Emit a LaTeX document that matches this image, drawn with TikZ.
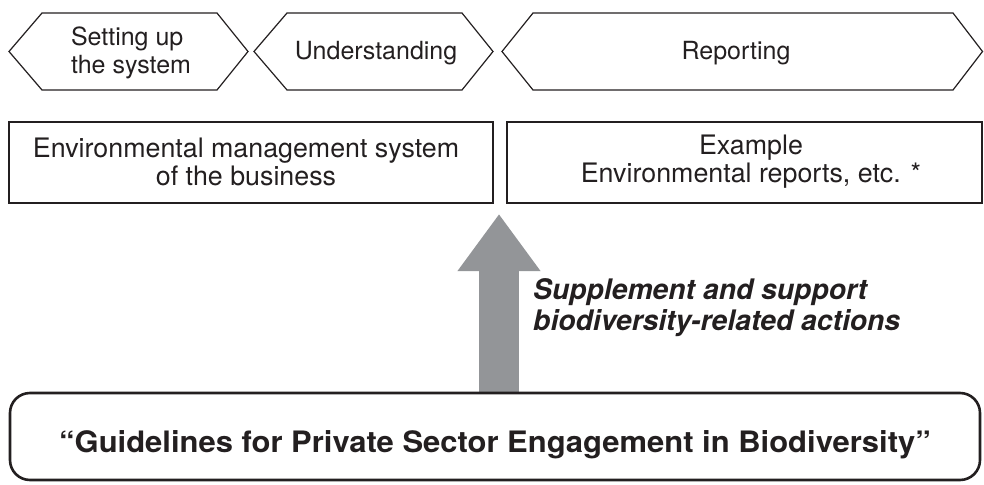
\documentclass[tikz,border=0pt]{standalone}
\usepackage{fontspec}
\usepackage{graphicx}
\setmainfont{TeX Gyre Heros}
\usetikzlibrary{arrows.meta,backgrounds}
\definecolor{ink}{HTML}{231F20}
\definecolor{arrowgray}{HTML}{939598}
\tikzset{
  stage/.style={draw=ink, line width=1.2pt, line join=miter},
  stagetext/.style={text=ink, inner sep=0pt, font=\fontsize{25}{27.5}\selectfont},
  infobox/.style={draw=ink, line width=1.2pt, inner sep=0pt},
  infotext/.style={text=ink, inner sep=0pt, align=center, font=\fontsize{26.8}{28}\selectfont},
  guidebox/.style={draw=ink, line width=2.6pt, rounded corners=20pt, inner sep=0pt, font=\fontsize{29.5}{32}\selectfont\bfseries, text=ink},
  note/.style={text=ink, inner sep=0pt, align=left, font=\fontsize{28.3}{30.5}\selectfont\bfseries\itshape},
  bigarrow/.style={draw=arrowgray, line width=40pt, -{Triangle[length=57pt,width=79pt]}}
}
\begin{document}
\begin{tikzpicture}[x=1pt,y=-1pt]
\useasboundingbox (0,0) rectangle (984,484);
% stage hexagons
\draw[stage] (9,51.5) -- (42,13) -- (217,13) -- (248,51.5) -- (217,90) -- (42,90) -- cycle;
\draw[stage] (254,51.5) -- (287,13) -- (462,13) -- (493,51.5) -- (462,90) -- (287,90) -- cycle;
\draw[stage] (502,51.5) -- (533,13) -- (953,13) -- (982.5,51.5) -- (953,90) -- (533,90) -- cycle;
\node[stagetext, align=left] (setup) at (131,53) {Setting up\\the system};
\node[stagetext] (underst) at (376,53) {Understanding};
\node[stagetext] (report) at (736,53) {Reporting};
% boxes
\node[infobox, minimum width=484pt, minimum height=81pt] (ems) at (251,162.5) {};
\node[infotext] (emstext) at (246,162) {Environmental management system\\of the business};
\node[infobox, minimum width=475pt, minimum height=81pt] (reports) at (744.5,162.5) {};
\node[infotext] (reptext) at (751,162) {Example\\Environmental reports, etc. *};
% guidelines box
\node[guidebox, minimum width=970pt, minimum height=87pt] (guide) at (495,436.5) {\raisebox{-15.5pt}[0pt][0pt]{\scalebox{1.05}[1]{\textquotedblleft Guidelines for Private Sector Engagement in Biodiversity\textquotedblright}}};
% arrow
\coordinate (tip) at (499,214);
\begin{scope}[on background layer]
\draw[bigarrow] (guide.north -| tip) -- (tip);
\end{scope}
\node[note, anchor=base west] (support) at (533,330) {Supplement and support\\biodiversity-related actions};
\end{tikzpicture}
\end{document}
